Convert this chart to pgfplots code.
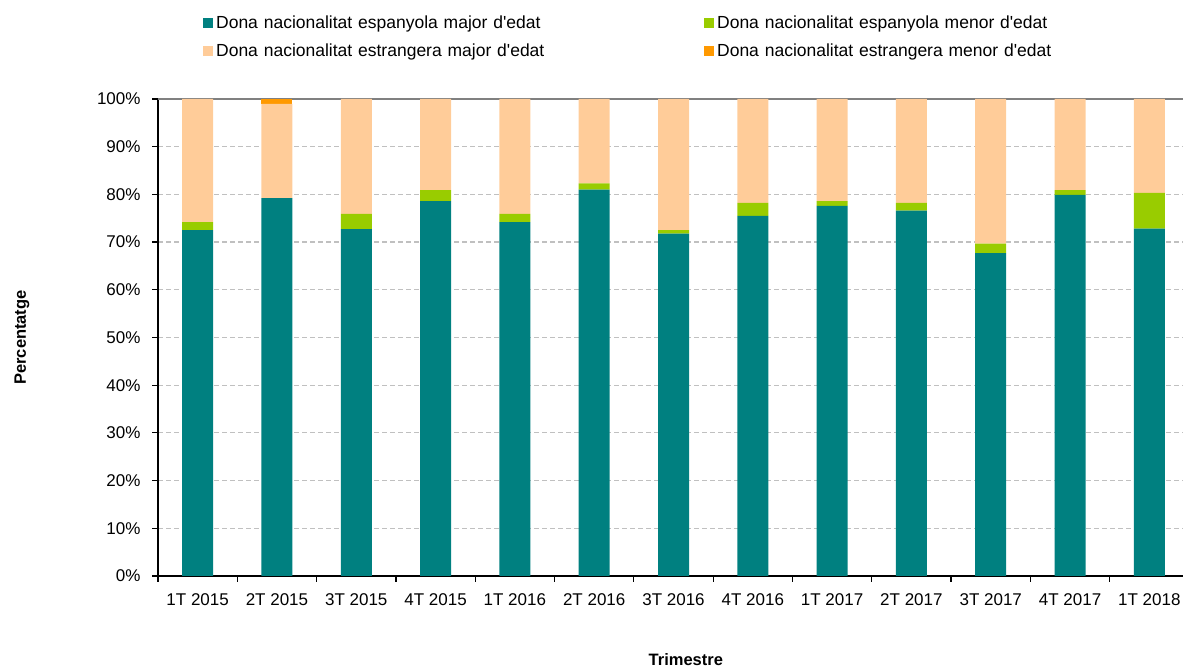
\documentclass[border=0pt]{standalone}
\usepackage{fontspec}
\setmainfont{Liberation Sans}[Ligatures=TeXOff]
\usepackage{pgfplots}
\pgfplotsset{compat=1.18}
\definecolor{cteal}{HTML}{008080}
\definecolor{cgreen}{HTML}{99CC00}
\definecolor{cpeach}{HTML}{FFCC99}
\definecolor{corange}{HTML}{FF9900}
\definecolor{cgrid}{HTML}{C0C0C0}
\begin{document}
\begin{tikzpicture}
\path[use as bounding box] (0,0) rectangle (1183bp,670bp);
\begin{axis}[
  at={(158bp,94bp)}, anchor=south west,
  scale only axis, width=1031bp, height=477bp,
  ybar stacked, bar width=31bp,
  xmin=-0.5, xmax=12.5, ymin=0, ymax=100,
  axis x line*=bottom, axis y line*=left,
  axis line style={black, line width=1.3bp},
  xtick={0,...,12},
  xticklabels={1T 2015,2T 2015,3T 2015,4T 2015,1T 2016,2T 2016,3T 2016,4T 2016,1T 2017,2T 2017,3T 2017,4T 2017,1T 2018},
  major x tick style={draw=none},
  minor xtick={-0.5,0.5,...,12.5},
  minor x tick style={black, line width=1.2bp},
  tick align=outside, minor tick length=6bp, major tick length=6bp,
  ytick={0,10,...,90},
  yticklabels={0\%,10\%,20\%,30\%,40\%,50\%,60\%,70\%,80\%,90\%},
  extra y ticks={100}, extra y tick labels={100\%},
  extra y tick style={grid=major, major grid style={solid, gray, line width=1.3bp}},
  y tick style={black, line width=1.2bp},
  ymajorgrids, major grid style={cgrid, line width=1.2bp, dash pattern=on 5bp off 3bp},
  ticklabel style={font=\fontsize{17bp}{20bp}\selectfont},
  xticklabel style={yshift=-8bp},
  yticklabel style={xshift=-8bp},
  xlabel={\textbf{Trimestre}},
  xlabel style={font=\fontsize{16.5bp}{20bp}\selectfont, at={(rel axis cs:0.512,0)}, anchor=center, yshift=-84bp},
  ylabel={\textbf{Percentatge}},
  ylabel style={font=\fontsize{16.5bp}{20bp}\selectfont, at={(axis description cs:-0.132,0.5)}, anchor=center},
  legend columns=2,
  legend style={draw=none, fill=none, at={(rel axis cs:0.0407,1.1816)}, anchor=north west,
    font=\fontsize{17.5bp}{20bp}\selectfont, row sep=12bp,
    /tikz/every even column/.append style={column sep=0bp},
    nodes={inner xsep=3bp, inner ysep=1bp, text width=485bp, align=left}},
  legend image code/.code={\path[#1, draw=none] (0bp,-5bp) rectangle (10bp,5bp);},
  legend cell align=left,
]
\addplot[fill=cteal, draw=none] coordinates {(0,72.5) (1,79.2) (2,72.7) (3,78.6) (4,74.2) (5,81.0) (6,71.8) (7,75.5) (8,77.6) (9,76.6) (10,67.7) (11,79.9) (12,72.8)};
\addlegendentry{Dona nacionalitat espanyola major d'edat}
\addplot[fill=cgreen, draw=none] coordinates {(0,1.7) (1,0) (2,3.2) (3,2.3) (4,1.7) (5,1.3) (6,0.7) (7,2.7) (8,1.0) (9,1.6) (10,2.0) (11,1.0) (12,7.5)};
\addlegendentry{Dona nacionalitat espanyola menor d'edat}
\addplot[fill=cpeach, draw=none] coordinates {(0,25.8) (1,19.8) (2,24.1) (3,19.1) (4,24.1) (5,17.7) (6,27.5) (7,21.8) (8,21.4) (9,21.8) (10,30.3) (11,19.1) (12,19.7)};
\addlegendentry{Dona nacionalitat estrangera major d'edat}
\addplot[fill=corange, draw=none] coordinates {(0,0) (1,1.0) (2,0) (3,0) (4,0) (5,0) (6,0) (7,0) (8,0) (9,0) (10,0) (11,0) (12,0)};
\addlegendentry{Dona nacionalitat estrangera menor d'edat}
\end{axis}
\end{tikzpicture}
\end{document}
